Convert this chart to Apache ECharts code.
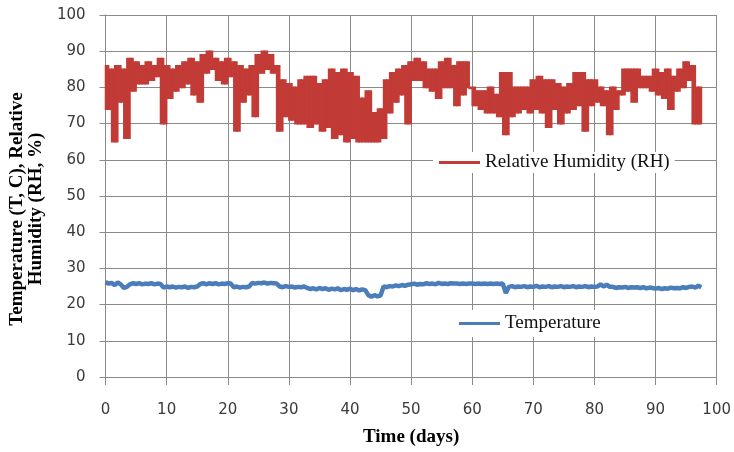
<!DOCTYPE html>
<html>
<head>
<meta charset="utf-8">
<script src="https://cdn.jsdelivr.net/npm/echarts@6/dist/echarts.min.js"></script>
<style>
html,body{margin:0;padding:0;background:#fff;}
#chart{width:734px;height:452px;}
</style>
</head>
<body>
<div id="chart"></div>
<script>
// Sampling step of both records (days)
var stepDays = 0.5;

// Relative humidity (%), one value every 0.5 day starting at day 0
var rhValues = [
  86,74,85,65,86,76,85,66,88,79,
  87,81,86,81,87,82,86,83,88,70,
  86,77,85,79,86,80,87,81,88,78,
  87,76,89,84,90,85,88,82,87,81,
  88,83,87,68,86,76,85,78,86,72,
  89,84,90,85,89,84,86,68,82,72,
  81,71,80,70,82,70,83,69,83,70,
  81,68,82,69,85,66,84,67,85,65,
  84,66,83,65,77,65,79,65,73,65,
  74,66,82,73,84,76,85,78,86,70,
  87,82,88,82,87,80,85,79,85,77,
  87,80,88,80,86,75,87,78,87,80,
  80,75,79,74,79,73,80,73,78,72,
  84,67,84,72,80,73,80,74,80,73,
  82,74,83,73,82,69,82,74,81,70,
  80,73,81,74,84,75,84,68,82,75,
  82,76,80,75,79,67,80,74,79,78,
  85,79,85,76,85,80,83,80,83,79,
  85,78,84,77,85,74,83,79,85,80,
  87,82,86,70,80,70
];

// Temperature (C), one value every 0.5 day starting at day 0
var tempValues = [
  26.2,25.8,26.0,25.4,26.1,25.6,
  24.6,24.9,
  25.6,25.9,25.7,25.9,25.6,25.8,25.7,25.9,25.6,25.8,25.7,
  24.7,25.0,24.8,25.0,24.7,24.9,24.8,25.0,24.6,24.9,24.8,25.0,
  25.7,25.9,25.6,25.9,25.7,25.9,25.6,25.8,25.7,25.9,25.8,
  24.8,25.0,24.7,24.9,24.8,25.0,
  26.0,25.8,26.0,25.9,26.1,25.8,26.0,25.9,25.8,
  25.0,24.8,25.1,24.9,25.0,24.7,24.9,24.8,25.0,
  24.6,24.3,24.5,24.2,24.6,24.3,24.5,24.1,24.4,24.2,24.5,24.0,24.3,24.1,24.4,24.0,24.3,23.9,24.2,24.0,
  22.6,22.2,22.6,22.3,22.5,
  25.0,24.8,25.1,25.0,25.3,25.1,25.4,25.2,25.5,
  25.6,25.8,25.5,25.7,25.6,25.9,25.7,25.8,25.6,26.0,25.7,25.8,25.7,25.9,25.8,25.8,25.7,25.8,25.7,25.8,25.8,25.7,25.8,25.7,25.8,25.7,25.8,25.7,25.8,25.7,25.8,
  23.2,
  24.9,25.1,24.8,25.0,24.9,25.1,24.8,25.0,24.9,25.2,24.8,25.0,24.9,25.1,24.8,25.0,24.9,25.1,24.8,25.0,24.9,25.1,24.8,25.0,24.9,25.1,24.8,25.0,24.9,25.0,
  25.6,25.0,25.5,24.9,
  24.9,24.6,24.8,24.7,24.9,24.6,24.8,24.7,24.8,24.6,24.8,24.5,24.7,24.6,
  24.4,24.6,24.3,24.5,24.4,24.7,24.5,24.6,24.5,24.8,24.6,24.9,
  25.0,24.7,25.2,24.8
];

var seriesNames = ['Relative Humidity (RH)', 'Temperature'];
var axisTicks = { min: 0, max: 100, interval: 10 };
var xTitle = 'Time (days)';
var yTitle = 'Temperature (T, C), Relative\nHumidity (RH, %)';

var rhColor = '#C23B36';
var tempColor = '#4A7DBA';

function toPairs(vals) {
  var out = [];
  for (var i = 0; i < vals.length; i++) out.push([i * stepDays, vals[i]]);
  return out;
}
// Consecutive readings joined: [t0, t1, v0, v1]
function toSpans(vals) {
  var out = [];
  for (var i = 0; i < vals.length - 1; i++) out.push([i * stepDays, (i + 1) * stepDays, vals[i], vals[i + 1]]);
  return out;
}

var gridColor = '#8a8a8a';
var labelStyle = { fontFamily: 'DejaVu Sans', fontSize: 15, color: '#3a3a3a' };
var titleStyle = { fontFamily: 'Liberation Serif', fontWeight: 'bold', fontSize: 19, color: '#000' };
var legendText = { fontFamily: 'Liberation Serif', fontSize: 19, color: '#111' };

var chart = echarts.init(document.getElementById('chart'), null, { renderer: 'canvas' });
chart.setOption({
  animation: false,
  backgroundColor: '#fff',
  grid: { left: 104, right: 16, top: 15, bottom: 75, containLabel: false },
  xAxis: {
    type: 'value', min: axisTicks.min, max: axisTicks.max, interval: axisTicks.interval,
    name: xTitle, nameLocation: 'middle', nameGap: 51, nameTextStyle: titleStyle,
    axisLine: { show: true, lineStyle: { color: gridColor, width: 1 } },
    axisTick: { show: true, length: 8, lineStyle: { color: gridColor } },
    axisLabel: Object.assign({ margin: 26 }, labelStyle),
    splitLine: { show: true, lineStyle: { color: gridColor, width: 1 } }
  },
  yAxis: {
    type: 'value', min: axisTicks.min, max: axisTicks.max, interval: axisTicks.interval,
    name: yTitle, nameLocation: 'middle', nameRotate: 90, nameGap: 49,
    nameTextStyle: Object.assign({ lineHeight: 19, padding: [0, 26, 0, 0] }, titleStyle),
    axisLine: { show: true, lineStyle: { color: gridColor, width: 1 } },
    axisTick: { show: true, length: 6, lineStyle: { color: gridColor } },
    axisLabel: Object.assign({ margin: 20 }, labelStyle),
    splitLine: { show: true, lineStyle: { color: gridColor, width: 1 } }
  },
  legend: [
    {
      data: [{ name: seriesNames[0], itemStyle: { color: rhColor } }], left: 433, top: 152, orient: 'horizontal',
      backgroundColor: '#fff', padding: [1, 5, 1, 6],
      icon: 'rect', itemWidth: 41, itemHeight: 3, textStyle: legendText
    },
    {
      data: [seriesNames[1]], left: 453, top: 310, orient: 'horizontal',
      backgroundColor: '#fff', padding: [4, 5, 4, 6],
      icon: 'rect', itemWidth: 41, itemHeight: 3, textStyle: legendText
    }
  ],
  series: [
    {
      name: seriesNames[0], type: 'custom', data: toSpans(rhValues),
      color: rhColor, itemStyle: { color: rhColor },
      encode: { x: [0, 1], y: [2, 3] },
      renderItem: function (params, api) {
        var a = api.coord([api.value(0), api.value(2)]);
        var b = api.coord([api.value(1), api.value(3)]);
        var x0 = Math.min(a[0], b[0]), x1 = Math.max(a[0], b[0]);
        var y0 = Math.min(a[1], b[1]), y1 = Math.max(a[1], b[1]);
        return {
          type: 'rect',
          shape: { x: x0, y: y0, width: Math.max(x1 - x0, 1), height: Math.max(y1 - y0, 1) },
          style: { fill: rhColor, stroke: rhColor, lineWidth: 1.6 }
        };
      }
    },
    {
      name: seriesNames[1], type: 'line', data: toPairs(tempValues),
      symbol: 'none', color: tempColor,
      lineStyle: { width: 4.5, color: tempColor }
    }
  ]
});
</script>
</body>
</html>
